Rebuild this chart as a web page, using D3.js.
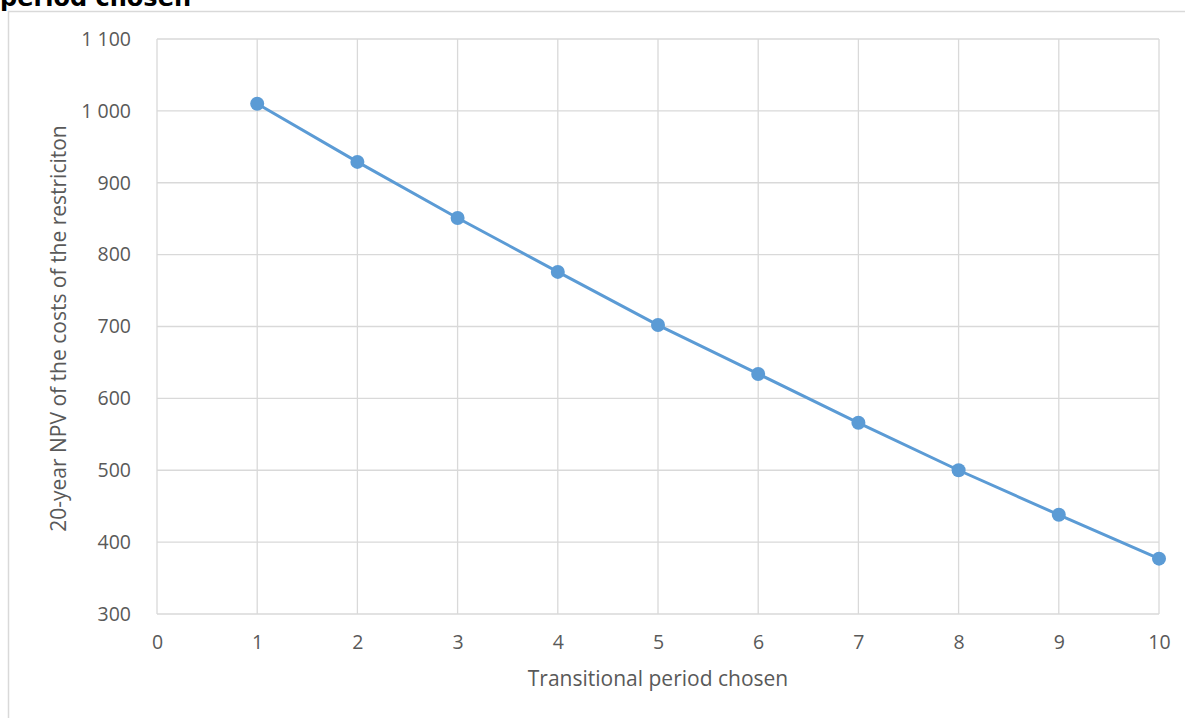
<!DOCTYPE html>
<html><head><meta charset="utf-8">
<script src="https://cdn.jsdelivr.net/npm/d3@7"></script>
<style>body{margin:0;background:#fff;}svg{display:block;font-family:"Open Sans","Noto Sans",sans-serif;}</style>
</head><body>
<svg id="c" width="1185" height="718"></svg>
<script>
const years = [1,2,3,4,5,6,7,8,9,10];
const npv = [1010,929,851,776,702,634,566,500,438,377];
const xTicks = [0,1,2,3,4,5,6,7,8,9,10];
const yTicks = [300,400,500,600,700,800,900,1000,1100];
const title = "period chosen";
const xTitle = "Transitional period chosen";
const yTitle = "20-year NPV of the costs of the restriciton";

const svg = d3.select("#c");
const L=157, R=1159, T=39, B=614;
const x = d3.scaleLinear().domain([0,10]).range([L,R]);
const y = d3.scaleLinear().domain([300,1100]).range([B,T]);
const fmt = v => d3.format(",")(v).replace(/,/g," ");

// chart frame
svg.append("path").attr("d",`M8.5,718 V11.5 H1185`).attr("fill","none").attr("stroke","#d9d9d9").attr("stroke-width",1.5);
svg.append("text").attr("x",0).attr("y",6).attr("font-weight","bold").attr("font-size",24).attr("fill","#000")
  .attr("font-family","'DejaVu Sans',sans-serif").text(title);

// grid
svg.append("g").selectAll("line").data(yTicks).join("line")
  .attr("x1",L).attr("x2",R).attr("y1",d=>y(d)).attr("y2",d=>y(d))
  .attr("stroke","#d9d9d9").attr("stroke-width",1.3);
svg.append("g").selectAll("line").data(xTicks).join("line")
  .attr("y1",T).attr("y2",B).attr("x1",d=>x(d)).attr("x2",d=>x(d))
  .attr("stroke","#d9d9d9").attr("stroke-width",1.3);

// axes labels
const yAx = svg.append("g").attr("transform",`translate(${L},0)`)
  .call(d3.axisLeft(y).tickValues(yTicks).tickFormat(fmt).tickSize(0).tickPadding(26));
yAx.select(".domain").remove();
yAx.selectAll("text").attr("font-size",19.5).attr("fill","#595959").attr("font-family","'Open Sans',sans-serif");
const xAx = svg.append("g").attr("transform",`translate(0,${B})`)
  .call(d3.axisBottom(x).tickValues(xTicks).tickFormat(d3.format("d")).tickSize(0).tickPadding(21));
xAx.select(".domain").remove();
xAx.selectAll("text").attr("font-size",19.5).attr("fill","#595959").attr("font-family","'Open Sans',sans-serif");

// titles
svg.append("text").attr("x",(L+R)/2).attr("y",686).attr("text-anchor","middle")
  .attr("font-size",21).attr("fill","#595959").text(xTitle);
svg.append("text").attr("transform",`translate(66,${(T+B)/2+2}) rotate(-90)`).attr("text-anchor","middle")
  .attr("font-size",21).attr("fill","#595959").text(yTitle);

// line
const data = years.map((d,i)=>({x:d,y:npv[i]}));
svg.append("path").datum(data).attr("fill","none").attr("stroke","#5b9bd5").attr("stroke-width",3)
  .attr("d",d3.line().x(d=>x(d.x)).y(d=>y(d.y)));
svg.append("g").selectAll("circle").data(data).join("circle")
  .attr("cx",d=>x(d.x)).attr("cy",d=>y(d.y)).attr("r",7).attr("fill","#5b9bd5");
</script>
</body></html>
